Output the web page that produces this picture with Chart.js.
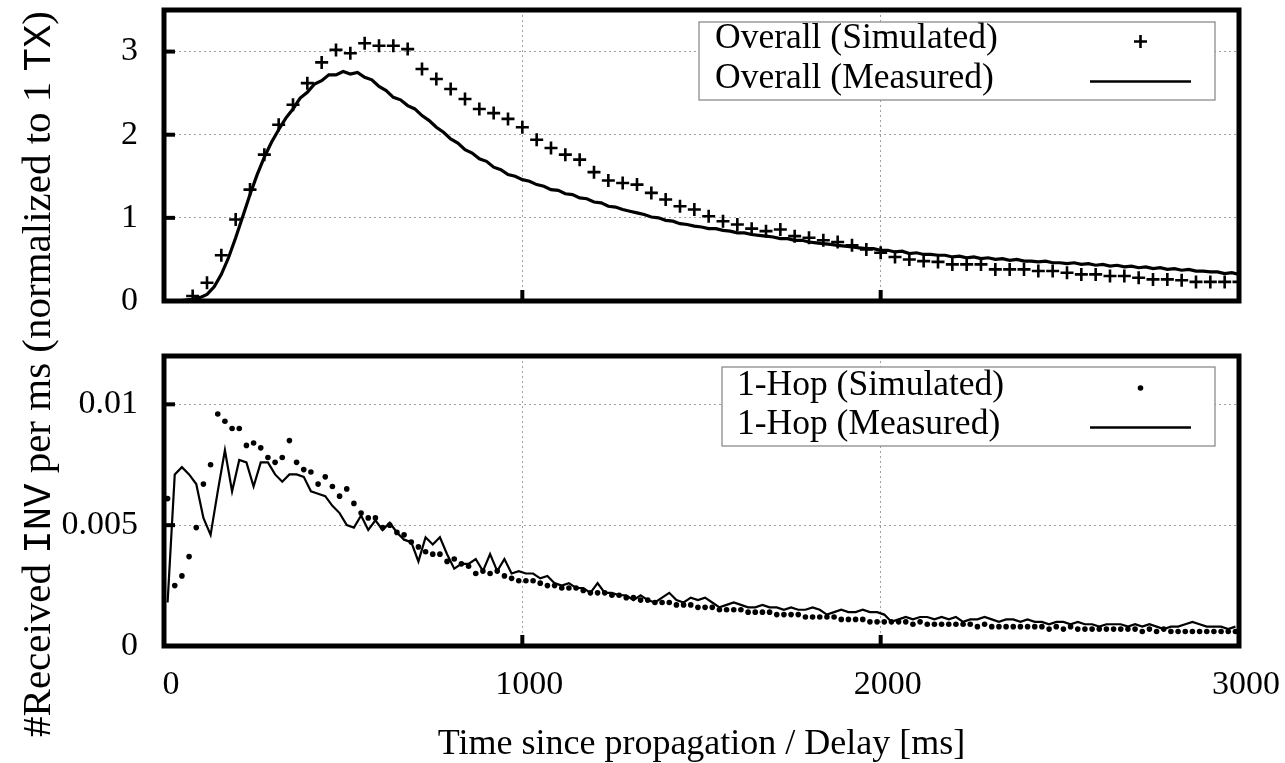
<!DOCTYPE html>
<html><head><meta charset="utf-8">
<script src="https://cdn.jsdelivr.net/npm/chart.js@4.4.0/dist/chart.umd.min.js"></script>
<style>
html,body{margin:0;padding:0;background:#fff;}
#wrap{position:relative;width:1285px;height:763px;overflow:hidden;background:#fff;}
#cA{position:absolute;left:0;top:0;}
#cB{position:absolute;left:0;top:330px;}
</style></head><body>
<div id="wrap"><canvas id="cA" width="1285" height="763"></canvas><canvas id="cB" width="1285" height="433"></canvas></div>
<script>
// ---- tick labels ----
const xTickValues = [0, 1000, 2000, 3000];
const yTickValuesTop = [0, 1, 2, 3];
const yTickValuesBottom = [0, 0.005, 0.01];

// ---- labels ----
const xAxisTitle = 'Time since propagation / Delay [ms]';
const yTitleParts = [['#Received ', 'serif'], ['INV', 'mono'], [' per ms (normalized to 1 ', 'serif'], ['TX', 'mono'], [')', 'serif']];
const labelOverallSim = 'Overall (Simulated)';
const labelOverallMeas = 'Overall (Measured)';
const labelHopSim = '1-Hop (Simulated)';
const labelHopMeas = '1-Hop (Measured)';

// ---- Overall (Measured): bins from 0 ms every 20 ms ----
const overallMeasStart = 0, overallMeasStep = 20;
const overallMeasured = [
  0, 0, 0, 0.01, 0.02, 0.04,
  0.08, 0.17, 0.32, 0.52, 0.76, 1.02, 1.28, 1.52, 1.73, 1.91,
  2.06, 2.20, 2.31, 2.44, 2.51, 2.61, 2.65, 2.72, 2.72, 2.76,
  2.73, 2.75, 2.69, 2.66, 2.58, 2.53, 2.45, 2.42, 2.35, 2.31, 2.23, 2.17, 2.09, 2.03, 1.95, 1.90, 1.82, 1.78, 1.71, 1.68, 1.61, 1.58, 1.52, 1.50, 1.46,
  1.44, 1.40, 1.38, 1.34, 1.33, 1.29, 1.28, 1.24, 1.23, 1.19, 1.18, 1.14, 1.13, 1.10, 1.08, 1.06, 1.04, 1.01, 1.00, 0.97, 0.96, 0.93, 0.92, 0.90, 0.89,
  0.87, 0.87, 0.85, 0.84, 0.82, 0.82, 0.80, 0.79, 0.78, 0.77, 0.75, 0.75, 0.73, 0.73, 0.71, 0.70, 0.69, 0.68, 0.67, 0.66, 0.65, 0.64, 0.63, 0.63, 0.61,
  0.61, 0.59, 0.60, 0.57, 0.58, 0.56, 0.56, 0.55, 0.55, 0.53, 0.54, 0.52, 0.53, 0.51, 0.52, 0.50, 0.51, 0.49, 0.50, 0.48,
  0.48, 0.47, 0.48, 0.46, 0.46, 0.45, 0.46, 0.44, 0.45, 0.43, 0.44, 0.42, 0.43, 0.41, 0.42, 0.40, 0.41, 0.39, 0.40, 0.38,
  0.39, 0.37, 0.38, 0.36, 0.36, 0.35, 0.35, 0.33, 0.34, 0.32
];

// ---- Overall (Simulated): bins from 80 ms every 40 ms ----
const overallSimStart = 80, overallSimStep = 40;
const overallSimulated = [
  0.06, 0.22, 0.55, 0.98, 1.34, 1.76, 2.12, 2.36, 2.62, 2.87,
  3.02, 2.98, 3.10, 3.07, 3.07, 3.03, 2.79, 2.67, 2.55, 2.43,
  2.31, 2.26, 2.19, 2.09, 1.94, 1.84, 1.76, 1.70, 1.55, 1.45,
  1.42, 1.40, 1.30, 1.22, 1.14, 1.10, 1.02, 0.96, 0.92, 0.87,
  0.84, 0.86, 0.78, 0.76, 0.73, 0.71, 0.67, 0.62, 0.58, 0.53,
  0.50, 0.48, 0.47, 0.44, 0.44, 0.44, 0.38, 0.38, 0.38, 0.36,
  0.36, 0.34, 0.32, 0.32, 0.30, 0.30, 0.28, 0.26, 0.26, 0.25,
  0.23, 0.23, 0.23, 0.23
];

// ---- 1-Hop: bins centred at 10 ms, every 20 ms ----
const hopStart = 10, hopStep = 20;
const hopSimulated = [
  0.0061, 0.0025, 0.0029, 0.0037, 0.0049, 0.0067, 0.0075, 0.0096, 0.0093, 0.0090,
  0.0090, 0.0083, 0.0084, 0.0082, 0.0078, 0.0076, 0.0078, 0.0085, 0.0076, 0.0073,
  0.0072, 0.0067, 0.0070, 0.0066, 0.0062, 0.0065, 0.0059, 0.0055, 0.0053, 0.0053,
  0.0049, 0.0050, 0.0047, 0.0046, 0.0043, 0.0041, 0.0039, 0.0038, 0.0038, 0.0035,
  0.0036, 0.0034, 0.0033, 0.0030, 0.0031, 0.0030, 0.0031, 0.0029, 0.0028, 0.0027,
  0.0027, 0.0027, 0.0026, 0.0025, 0.0025, 0.0024, 0.0024, 0.0024, 0.0023, 0.0022,
  0.0022, 0.0022, 0.0021, 0.0021, 0.0020, 0.0020,
  0.0019, 0.0019, 0.0018, 0.0018, 0.0018, 0.0017, 0.0017, 0.0017, 0.0016, 0.0016,
  0.0016, 0.0015, 0.0015, 0.0015, 0.0015, 0.0014, 0.0014, 0.0014, 0.0014, 0.0013,
  0.0013, 0.0013, 0.0013, 0.0012, 0.0012, 0.0012, 0.0012, 0.0012, 0.0011, 0.0011,
  0.0011, 0.0011, 0.0010, 0.0010,
  0.0010, 0.0010, 0.0010, 0.0010, 0.0009, 0.0010, 0.0009, 0.0009, 0.0009, 0.0009,
  0.0009, 0.0009, 0.0009, 0.0008, 0.0009, 0.0008, 0.0008, 0.0008, 0.0008, 0.0008,
  0.0008, 0.0008, 0.0008, 0.0007, 0.0008, 0.0007, 0.0008, 0.0007, 0.0007, 0.0007,
  0.0007, 0.0007, 0.0007, 0.0007, 0.0007, 0.0007, 0.0006, 0.0007, 0.0006, 0.0007,
  0.0006, 0.0006, 0.0006, 0.0006, 0.0006, 0.0006, 0.0006, 0.0006, 0.0006, 0.0006
];
const hopMeasured = [
  0.0018, 0.0071, 0.0074, 0.0071, 0.0067, 0.0053, 0.0046, 0.0064, 0.0081, 0.0064,
  0.0077, 0.0076, 0.0066, 0.0076, 0.0076, 0.0071, 0.0068, 0.0071, 0.0071, 0.0070,
  0.0064, 0.0063, 0.0062, 0.0058, 0.0055, 0.0050, 0.0049, 0.0054, 0.0048, 0.0052,
  0.0048, 0.0051, 0.0047, 0.0044, 0.0043, 0.0035, 0.0045, 0.0042, 0.0045, 0.0038,
  0.0032, 0.0034, 0.0034, 0.0036, 0.0031, 0.0038, 0.0031, 0.0036, 0.0030, 0.0031,
  0.0030, 0.0030, 0.0028, 0.0029, 0.0026, 0.0025, 0.0026, 0.0024, 0.0024, 0.0022,
  0.0026, 0.0022, 0.0022, 0.0021, 0.0021, 0.0019,
  0.0021, 0.0019, 0.0018, 0.0020, 0.0022, 0.0019, 0.0018, 0.0020, 0.0019, 0.0020,
  0.0018, 0.0016, 0.0017, 0.0018, 0.0017, 0.0016, 0.0016, 0.0017, 0.0016, 0.0016,
  0.0015, 0.0016, 0.0015, 0.0015, 0.0016, 0.0015, 0.0013, 0.0014, 0.0015, 0.0014,
  0.0014, 0.0015, 0.0014, 0.0014,
  0.0013, 0.0010, 0.0011, 0.0012, 0.0011, 0.0012, 0.0012, 0.0011, 0.0012, 0.0011,
  0.0012, 0.0010, 0.0011, 0.0011, 0.0012, 0.0011, 0.0010, 0.0011, 0.0011, 0.0010,
  0.0011, 0.0010, 0.0010, 0.0009, 0.0010, 0.0010, 0.0009, 0.0010, 0.0009, 0.0009,
  0.0008, 0.0009, 0.0009, 0.0009, 0.0008, 0.0009, 0.0008, 0.0009, 0.0008, 0.0007,
  0.0008, 0.0008, 0.0009, 0.0010, 0.0009, 0.0008, 0.0008, 0.0008, 0.0007, 0.0008
];

const toPoints = (vals, start, step) => vals.map((v, i) => ({x: start + i * step, y: v}));

const SERIF = 'Liberation Serif';
const MONO = 'Liberation Mono';
Chart.defaults.font.family = SERIF;
Chart.defaults.color = '#000';

const framePlugin = {
  id: 'frame',
  afterDatasetsDraw(chart) {
    const {ctx, chartArea: a, scales} = chart;
    ctx.save();
    ctx.strokeStyle = '#000';
    ctx.lineWidth = 4;
    const L = 11;
    scales.x.ticks.forEach(t => {
      const px = scales.x.getPixelForValue(t.value);
      if (px > a.left + 3 && px < a.right - 3) {
        ctx.beginPath(); ctx.moveTo(px, a.bottom); ctx.lineTo(px, a.bottom - L); ctx.stroke();
      }
    });
    scales.y.ticks.forEach(t => {
      const py = scales.y.getPixelForValue(t.value);
      if (py > a.top + 3 && py < a.bottom - 3) {
        ctx.beginPath(); ctx.moveTo(a.left, py); ctx.lineTo(a.left + L, py); ctx.stroke();
      }
    });
    ctx.lineWidth = 5;
    ctx.lineJoin = 'miter';
    ctx.strokeRect(a.left, a.top, a.right - a.left, a.bottom - a.top);
    ctx.restore();
  }
};

const boxLegendPlugin = {
  id: 'boxLegend',
  afterDraw(chart, args, o) {
    if (!o || !o.width) return;
    const {ctx, chartArea: a} = chart;
    const right = a.right - o.rightGap, top = a.top + o.topGap;
    const left = right - o.width;
    ctx.save();
    ctx.fillStyle = '#fff';
    ctx.fillRect(left, top, o.width, o.height);
    ctx.strokeStyle = '#8c8c8c';
    ctx.lineWidth = 1.3;
    ctx.strokeRect(left, top, o.width, o.height);
    ctx.font = o.fontSize + 'px "' + SERIF + '"';
    ctx.fillStyle = '#000';
    ctx.textBaseline = 'middle';
    ctx.textAlign = 'left';
    chart.data.datasets.forEach((ds, i) => {
      const y = top + o.rowY[i];
      ctx.fillText(ds.label, left + o.padLeft, y);
      const sx2 = right - o.sampleRight, sx1 = sx2 - o.sampleLen, cx = (sx1 + sx2) / 2;
      const sy = y + o.sampleDy;
      ctx.strokeStyle = '#000';
      ctx.fillStyle = '#000';
      if (ds.showLine === false) {
        if (ds.pointStyle === 'cross') {
          const r = ds.pointRadius;
          ctx.lineWidth = ds.borderWidth;
          ctx.beginPath();
          ctx.moveTo(cx - r, sy); ctx.lineTo(cx + r, sy);
          ctx.moveTo(cx, sy - r); ctx.lineTo(cx, sy + r);
          ctx.stroke();
        } else {
          ctx.beginPath(); ctx.arc(cx, sy, ds.pointRadius, 0, Math.PI * 2); ctx.fill();
        }
      } else {
        ctx.lineWidth = 2.5;
        ctx.beginPath(); ctx.moveTo(sx1, sy); ctx.lineTo(sx2, sy); ctx.stroke();
      }
    });
    ctx.restore();
  }
};

const yTitlePlugin = {
  id: 'yTitle',
  afterDraw(chart, args, o) {
    if (!o || !o.parts) return;
    const ctx = chart.ctx;
    ctx.save();
    ctx.translate(o.x, o.y);
    ctx.rotate(-Math.PI / 2);
    ctx.fillStyle = '#000';
    ctx.textBaseline = 'alphabetic';
    ctx.textAlign = 'left';
    const fontFor = k => (k === 'mono' ? (o.size * 0.95) + 'px "' + MONO + '"' : o.size + 'px "' + SERIF + '"');
    let total = 0;
    o.parts.forEach(([t, k]) => { ctx.font = fontFor(k); total += ctx.measureText(t).width; });
    let x = -total / 2;
    o.parts.forEach(([t, k]) => { ctx.font = fontFor(k); ctx.fillText(t, x, 0); x += ctx.measureText(t).width; });
    ctx.restore();
  }
};

const zeroPad = s => { s.paddingTop = 0; s.paddingBottom = 0; s.paddingLeft = 0; s.paddingRight = 0; };

function scalesFor(yTicks, yMax, xHeight, showX) {
  const gridCfg = {color: '#a0a0a0', lineWidth: 1, drawTicks: false};
  return {
    x: {
      type: 'linear', min: 0, max: 3000,
      afterBuildTicks: s => { s.ticks = xTickValues.map(v => ({value: v})); },
      afterFit: s => { s.height = xHeight; zeroPad(s); },
      grid: gridCfg,
      border: {display: false, dash: [2, 3]},
      ticks: {display: showX, padding: 19, labelOffset: 7, autoSkip: false, maxRotation: 0,
              font: {size: 34, family: SERIF}, color: '#000', callback: v => String(v)},
      title: {display: showX, text: xAxisTitle, color: '#000',
              font: {size: 36, family: SERIF, lineHeight: 1}, padding: {top: 0, bottom: 0}}
    },
    y: {
      type: 'linear', min: 0, max: yMax,
      afterBuildTicks: s => { s.ticks = yTicks.map(v => ({value: v})); },
      afterFit: s => { s.width = 164; zeroPad(s); },
      grid: gridCfg,
      border: {display: false, dash: [2, 3]},
      ticks: {padding: 26, font: {size: 34, family: SERIF}, color: '#000', callback: v => String(v)}
    }
  };
}

new Chart(document.getElementById('cA'), {
  type: 'line',
  data: {
    datasets: [
      {label: labelOverallSim, data: toPoints(overallSimulated, overallSimStart, overallSimStep),
       showLine: false, pointStyle: 'cross', pointRadius: 6.5, borderWidth: 2.6,
       borderColor: '#000', backgroundColor: '#000', pointHoverRadius: 6.5},
      {label: labelOverallMeas, data: toPoints(overallMeasured, overallMeasStart, overallMeasStep),
       showLine: true, pointRadius: 0, borderWidth: 3.2, borderColor: '#000', tension: 0, fill: false}
    ]
  },
  options: {
    responsive: false, animation: false, devicePixelRatio: 1,
    layout: {padding: {top: 10, right: 46, left: 0, bottom: 0}},
    scales: scalesFor(yTickValuesTop, 3.5, 763 - 301, false),
    plugins: {
      legend: {display: false}, tooltip: {enabled: false},
      boxLegend: {width: 516, height: 78, rightGap: 24, topGap: 12, padLeft: 16, fontSize: 35.5,
                  rowY: [17, 57], sampleDy: 2.5, sampleRight: 24, sampleLen: 101},
      yTitle: {parts: yTitleParts, x: 50, y: 374, size: 41}
    }
  },
  plugins: [framePlugin, boxLegendPlugin, yTitlePlugin]
});

new Chart(document.getElementById('cB'), {
  type: 'line',
  data: {
    datasets: [
      {label: labelHopSim, data: toPoints(hopSimulated, hopStart, hopStep),
       showLine: false, pointStyle: 'circle', pointRadius: 2.8, borderWidth: 0,
       borderColor: '#000', backgroundColor: '#000', pointHoverRadius: 2.8},
      {label: labelHopMeas, data: toPoints(hopMeasured, hopStart, hopStep),
       showLine: true, pointRadius: 0, borderWidth: 2.2, borderColor: '#000', tension: 0, fill: false}
    ]
  },
  options: {
    responsive: false, animation: false, devicePixelRatio: 1,
    layout: {padding: {top: 26, right: 46, left: 0, bottom: 0}},
    scales: scalesFor(yTickValuesBottom, 0.012, 433 - 316, true),
    plugins: {
      legend: {display: false}, tooltip: {enabled: false},
      boxLegend: {width: 493, height: 79, rightGap: 24, topGap: 11, padLeft: 15, fontSize: 35.5,
                  rowY: [18.5, 58], sampleDy: 2.5, sampleRight: 24, sampleLen: 101}
    }
  },
  plugins: [framePlugin, boxLegendPlugin]
});
</script>
</body></html>
